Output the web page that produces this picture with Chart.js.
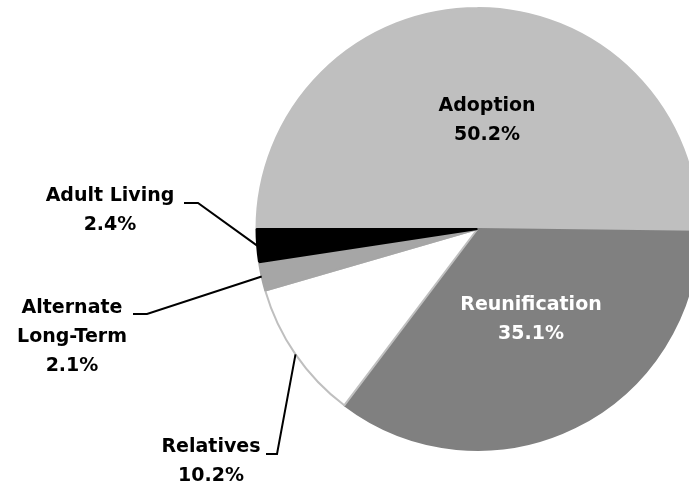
<!DOCTYPE html>
<html>
<head>
<meta charset="utf-8">
<script src="https://cdn.jsdelivr.net/npm/chart.js@4.4.1/dist/chart.umd.min.js"></script>
<style>
    html, body { margin: 0; padding: 0; overflow: hidden; background: #fff; }
    #wrap { width: 712px; height: 489px; }
</style>
</head>
<body>
<div id="wrap"><canvas id="outcomeChart" width="712" height="489"></canvas></div>
<script>
const categories = ['Adoption', 'Reunification', 'Relatives', 'Alternate Long-Term', 'Adult Living'];
const shares = [50.2, 35.1, 10.2, 2.1, 2.4];
const labelLines = [['Adoption'], ['Reunification'], ['Relatives'], ['Alternate', 'Long-Term'], ['Adult Living']];
const sliceColors = ['#bfbfbf', '#808080', '#ffffff', '#a6a6a6', '#000000'];
const edgeColors = ['#bfbfbf', '#808080', '#bfbfbf', '#a6a6a6', '#000000'];
const textColors = ['#000000', '#ffffff', '#000000', '#000000', '#000000'];

// where each label sits; leader = [elbowX, elbowY, endX] or null for labels inside the pie
const labelPlace = [
    {x: 487, y: 106, leader: null},
    {x: 531, y: 305, leader: null},
    {x: 211, y: 447, leader: [277, 454, 266]},
    {x: 72, y: 308, leader: [147, 314, 133]},
    {x: 110, y: 196, leader: [198, 203, 184]}
];

const labelPlugin = {
    id: 'pieLabels',
    afterDraw(chart) {
        const ctx = chart.ctx;
        const meta = chart.getDatasetMeta(0);
        ctx.save();
        meta.data.forEach((arc, i) => {
            const p = arc.getProps(['x', 'y', 'startAngle', 'endAngle', 'outerRadius'], true);
            const place = labelPlace[i];
            if (place.leader) {
                const mid = (p.startAngle + p.endAngle) / 2;
                const ex = p.x + Math.cos(mid) * p.outerRadius;
                const ey = p.y + Math.sin(mid) * p.outerRadius;
                ctx.beginPath();
                ctx.moveTo(ex, ey);
                ctx.lineTo(place.leader[0], place.leader[1]);
                ctx.lineTo(place.leader[2], place.leader[1]);
                ctx.strokeStyle = '#000';
                ctx.lineWidth = 2;
                ctx.stroke();
            }
            const lines = labelLines[i].concat([shares[i].toFixed(1) + '%']);
            ctx.font = 'bold 19px "DejaVu Sans", sans-serif';
            ctx.fillStyle = textColors[i];
            ctx.textAlign = 'center';
            ctx.textBaseline = 'middle';
            lines.forEach((t, k) => {
                ctx.fillText(t, place.x, place.y + k * 29);
            });
        });
        ctx.restore();
    }
};

new Chart(document.getElementById('outcomeChart'), {
    type: 'pie',
    data: {
        labels: categories,
        datasets: [{
            data: shares,
            backgroundColor: sliceColors,
            borderColor: edgeColors,
            borderWidth: 2
        }]
    },
    options: {
        responsive: false,
        animation: false,
        rotation: 270,
        layout: {
            padding: {left: 255, right: 12, top: 7, bottom: 38}
        },
        plugins: {
            legend: {display: false},
            tooltip: {enabled: false}
        }
    },
    plugins: [labelPlugin]
});
</script>
</body>
</html>
